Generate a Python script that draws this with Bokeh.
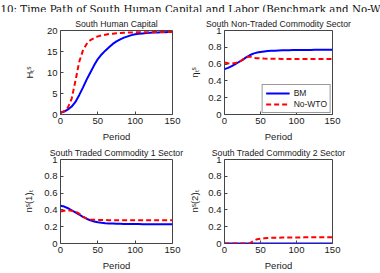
from bokeh.plotting import figure
from bokeh.layouts import column, row
from bokeh.models import Range1d, FixedTicker, Legend, LegendItem
from bokeh.core.properties import value
from bokeh.embed import file_html
from bokeh.resources import INLINE

# ---- data -------------------------------------------------------------
periods = [0, 5, 10, 15, 20, 25, 30, 35, 40, 45, 50, 55, 60, 65, 70, 75,
           80, 85, 90, 95, 100, 105, 110, 115, 120, 125, 130, 135, 140, 145, 150]

# South human capital H_t^S
H_bm = [0.4, 0.7, 1.2, 1.9, 3.0, 4.6, 6.4, 8.3, 10.0, 11.7, 13.2, 14.3, 15.2, 16.0,
        16.8, 17.4, 17.9, 18.3, 18.6, 18.9, 19.1, 19.2, 19.3, 19.4, 19.45, 19.5,
        19.55, 19.58, 19.6, 19.63, 19.65]
H_nowto = [0.4, 0.8, 1.7, 3.8, 8.0, 12.5, 15.2, 16.8, 17.7, 18.2, 18.6, 18.85, 19.0,
           19.15, 19.25, 19.35, 19.4, 19.45, 19.5, 19.52, 19.55, 19.57, 19.58, 19.6,
           19.6, 19.62, 19.62, 19.63, 19.64, 19.65, 19.65]

# Non-traded commodity sector share eta_t^S
eta_bm = [0.54, 0.555, 0.575, 0.60, 0.625, 0.65, 0.68, 0.705, 0.725, 0.737, 0.745,
          0.75, 0.755, 0.758, 0.76, 0.762, 0.764, 0.765, 0.766, 0.767, 0.768, 0.768,
          0.769, 0.769, 0.769, 0.77, 0.77, 0.77, 0.77, 0.77, 0.77]
eta_nowto = [0.62, 0.61, 0.605, 0.612, 0.625, 0.65, 0.68, 0.69, 0.676, 0.67, 0.668,
             0.666, 0.665, 0.664, 0.663, 0.663, 0.662, 0.662, 0.661, 0.661, 0.661,
             0.66, 0.66, 0.66, 0.66, 0.66, 0.66, 0.66, 0.66, 0.66, 0.66]

# Traded commodity 1 sector share n_t^S(1)
n1_bm = [0.45, 0.44, 0.42, 0.395, 0.37, 0.345, 0.318, 0.295, 0.275, 0.262, 0.252,
         0.246, 0.242, 0.239, 0.237, 0.235, 0.234, 0.233, 0.232, 0.232, 0.231, 0.231,
         0.23, 0.23, 0.23, 0.23, 0.23, 0.229, 0.229, 0.229, 0.229]
n1_nowto = [0.38, 0.39, 0.395, 0.39, 0.38, 0.355, 0.32, 0.297, 0.287, 0.282, 0.28,
            0.279, 0.279, 0.278, 0.278, 0.278, 0.278, 0.278, 0.278, 0.278, 0.278,
            0.278, 0.278, 0.278, 0.278, 0.278, 0.278, 0.278, 0.278, 0.278, 0.278]

# Traded commodity 2 sector share n_t^S(2)
n2_bm = [0.0] * 31
n2_nowto = [0.0, 0.0, 0.0, 0.0, 0.0, 0.0, 0.0, 0.0, 0.03, 0.05, 0.057, 0.062, 0.065,
            0.067, 0.068, 0.069, 0.07, 0.071, 0.071, 0.072, 0.072, 0.072, 0.073, 0.073,
            0.073, 0.073, 0.073, 0.073, 0.073, 0.073, 0.073]

x_ticks = [0, 50, 100, 150]
H_ticks = [0, 5, 10, 15, 20]
share_ticks = [0, 0.2, 0.4, 0.6, 0.8, 1]
share_tick_labels = ["0", "0.2", "0.4", "0.6", "0.8", "1"]

series_names = ["BM", "No-WTO"]
fig_title = "10: Time Path of South Human Capital and Labor (Benchmark and No-WTO)"

# ---- styling ----------------------------------------------------------
SANS = "Liberation Sans"
BLUE = "#0000ff"
RED = "#ff0000"
TXT = "#1a1a1a"

LEFT_W, RIGHT_W = 186, 194      # column widths of the 2x2 grid


def make_panel(title, ylabel, ymax, yticks, ylabels, bm, nowto,
               width, height, left, right, top, bottom, ylabel_gap):
    p = figure(width=width, height=height, output_backend="svg",
               toolbar_location=None, x_range=Range1d(0, 150),
               y_range=Range1d(0, ymax), title=title,
               min_border_left=left, min_border_right=right,
               min_border_top=top, min_border_bottom=bottom)
    p.title.align = "center"
    p.title.text_font = SANS
    p.title.text_font_size = "8.7px"
    p.title.text_font_style = "normal"
    p.title.text_color = TXT
    p.title.standoff = 3
    p.title.offset = 0
    p.grid.visible = False
    p.background_fill_color = "white"
    p.border_fill_color = "white"
    p.outline_line_color = "#444444"
    p.outline_line_width = 1

    p.xaxis.ticker = FixedTicker(ticks=x_ticks)
    p.yaxis.ticker = FixedTicker(ticks=yticks)
    if ylabels is not None:
        p.yaxis.major_label_overrides = dict(zip(yticks, ylabels))
    p.xaxis.axis_label = "Period"
    p.yaxis.axis_label = ylabel
    for ax in (p.xaxis[0], p.yaxis[0]):
        ax.axis_line_color = None
        ax.major_tick_in = 3
        ax.major_tick_out = 0
        ax.major_tick_line_color = "#444444"
        ax.minor_tick_line_color = None
        ax.major_label_text_font = SANS
        ax.major_label_text_font_size = "9.5px"
        ax.major_label_text_color = TXT
        ax.major_label_standoff = 3
        ax.axis_label_text_font = SANS
        ax.axis_label_text_font_size = "9.5px"
        ax.axis_label_text_font_style = "normal"
        ax.axis_label_text_color = TXT
        ax.axis_label_standoff = 4
    p.yaxis.axis_label_standoff = ylabel_gap

    r_bm = p.line(periods, bm, line_color=BLUE, line_width=2)
    r_nw = p.line(periods, nowto, line_color=RED, line_width=2, line_dash="5 3")
    return p, r_bm, r_nw


# header line with the figure caption (clipped at the right edge)
hdr = figure(width=380, height=12, output_backend="svg", toolbar_location=None,
             x_range=Range1d(0, 380), y_range=Range1d(0, 12),
             x_axis_location=None, y_axis_location=None,
             min_border=0)
hdr.grid.visible = False
hdr.outline_line_color = None
hdr.text(x=[0], y=[3.2], text=[fig_title], text_font=value("DejaVu Serif"),
         text_font_size="10.3px", text_color="#111111", text_baseline="alphabetic")

p1, _, _ = make_panel("South Human Capital", "Hₜˢ", 20, H_ticks, None,
                      H_bm, H_nowto, LEFT_W, 132, 60, LEFT_W - 172, 18, 25, 9)
p2, b2, n2 = make_panel("South Non-Traded Commodity Sector", "ηₜˢ", 1,
                        share_ticks, share_tick_labels, eta_bm, eta_nowto,
                        RIGHT_W, 132, 220 - LEFT_W, 380 - 332, 18, 25, 5)
p3, _, _ = make_panel("South Traded Commodity 1 Sector", "nˢ(1)ₜ", 1,
                      share_ticks, share_tick_labels, n1_bm, n1_nowto,
                      LEFT_W, 129, 60, LEFT_W - 172, 15, 25, 7)
p4, _, _ = make_panel("South Traded Commodity 2 Sector", "nˢ(2)ₜ", 1,
                      share_ticks, share_tick_labels, n2_bm, n2_nowto,
                      RIGHT_W, 129, 220 - LEFT_W, 380 - 332, 15, 25, 5)

legend = Legend(items=[LegendItem(label=series_names[0], renderers=[b2]),
                       LegendItem(label=series_names[1], renderers=[n2])],
                location="bottom_right")
legend.margin = 1
legend.padding = 3
legend.spacing = 1
legend.glyph_width = 24
legend.glyph_height = 10
legend.label_standoff = 4
legend.label_text_font = SANS
legend.label_text_font_size = "8.5px"
legend.label_text_color = TXT
legend.label_height = 10
legend.border_line_color = "#333333"
legend.background_fill_alpha = 1
p2.add_layout(legend)

layout = column(hdr, row(p1, p2), row(p3, p4))

open("out.html", "w").write(file_html(layout, INLINE))
